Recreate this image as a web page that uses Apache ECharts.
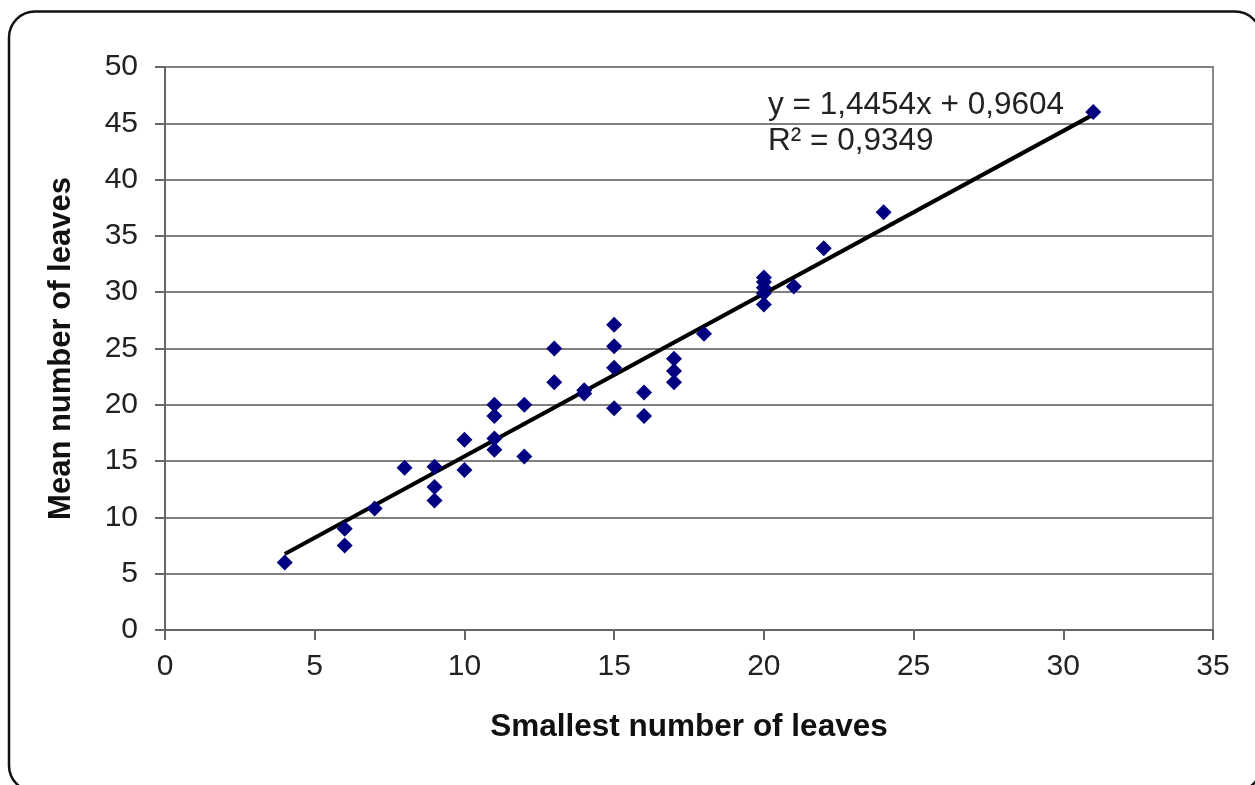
<!DOCTYPE html>
<html>
<head>
<meta charset="utf-8">
<script src="https://cdn.jsdelivr.net/npm/echarts@6/dist/echarts.min.js"></script>
<style>
  html, body { margin: 0; padding: 0; background: #fff; }
  #chart { width: 1255px; height: 785px; }
</style>
</head>
<body>
<div id="chart"></div>
<script>
// smallest number of leaves (x) / mean number of leaves (y)
const smallest = [4, 6, 6, 7, 8, 9, 9, 9, 10, 10, 11, 11, 11, 11, 12, 12, 13, 13, 14, 14,
  15, 15, 15, 15, 16, 16, 17, 17, 17, 18, 20, 20, 20, 20, 20, 21, 22, 24, 31];
const mean = [6, 9, 7.5, 10.8, 14.4, 14.5, 12.7, 11.5, 16.9, 14.2, 20, 19, 17, 16, 20, 15.4, 25, 22, 21, 21.3,
  27.1, 25.2, 23.3, 19.7, 21.1, 19, 24.1, 23, 22, 26.3, 31.3, 30.9, 30.4, 29.9, 28.9, 30.5, 33.9, 37.1, 46];
// trendline end points
const trendX = [4, 31];
const trendY = [6.76, 45.77];
const equation = ["y = 1,4454x + 0,9604", "R² = 0,9349"];

const font = "'Liberation Sans', Arial, sans-serif";
const chart = echarts.init(document.getElementById("chart"));

chart.setOption({
  animation: false,
  grid: {
    left: 165,
    right: 42,
    top: 67,
    bottom: 155,
    show: true,
    borderColor: "#8a8a8a",
    borderWidth: 2
  },
  xAxis: {
    type: "value",
    min: 0,
    max: 35,
    interval: 5,
    name: "Smallest number of leaves",
    nameLocation: "middle",
    nameGap: 81,
    nameTextStyle: { fontFamily: font, fontSize: 31.5, fontWeight: "bold", color: "#111" },
    axisLine: { lineStyle: { color: "#666", width: 2 } },
    axisTick: { show: true, length: 10, lineStyle: { color: "#666", width: 2 } },
    axisLabel: { margin: 22, fontFamily: font, fontSize: 30, color: "#222" },
    splitLine: { show: false }
  },
  yAxis: {
    type: "value",
    min: 0,
    max: 50,
    interval: 5,
    name: "Mean number of leaves",
    nameLocation: "middle",
    nameGap: 88,
    nameTextStyle: { fontFamily: font, fontSize: 31, fontWeight: "bold", color: "#111" },
    axisLine: { show: true, lineStyle: { color: "#666", width: 2 } },
    axisTick: { show: true, length: 10, lineStyle: { color: "#666", width: 2 } },
    axisLabel: { margin: 27, fontFamily: font, fontSize: 30, color: "#222" },
    splitLine: { lineStyle: { color: "#808080", width: 2 } }
  },
  graphic: [
    {
      type: "rect",
      shape: { x: 9, y: 11.5, width: 1252, height: 780, r: 26 },
      style: { fill: "none", stroke: "#111", lineWidth: 2.5 },
      silent: true
    },
    {
      type: "text",
      left: 768,
      top: 89,
      style: { text: equation[0], font: "31.5px " + font, fill: "#222" }
    },
    {
      type: "text",
      left: 768,
      top: 125,
      style: { text: equation[1], font: "31.5px " + font, fill: "#222" }
    }
  ],
  series: [
    {
      type: "line",
      data: trendX.map((x, i) => [x, trendY[i]]),
      symbol: "none",
      lineStyle: { color: "#000", width: 4 },
      z: 3
    },
    {
      type: "scatter",
      data: smallest.map((x, i) => [x, mean[i]]),
      symbol: "diamond",
      symbolSize: 16,
      itemStyle: { color: "#000080", opacity: 1 },
      z: 4
    }
  ]
});
</script>
</body>
</html>
